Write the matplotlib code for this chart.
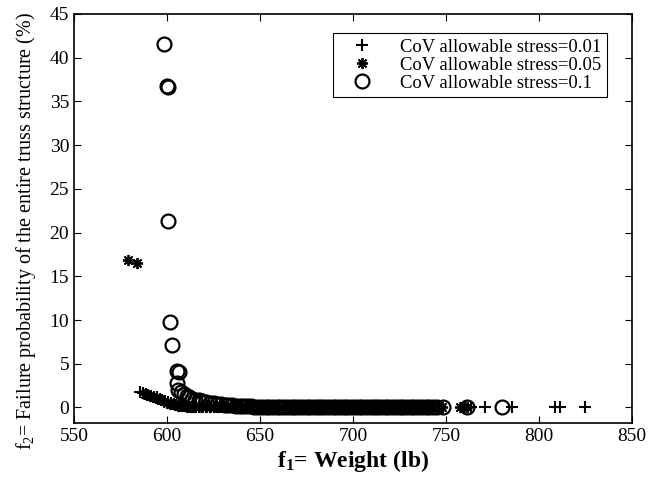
import numpy as np
import matplotlib
matplotlib.use('Agg')
import matplotlib.pyplot as plt

plt.rcParams['font.family'] = 'Liberation Serif'
plt.rcParams['mathtext.fontset'] = 'custom'
plt.rcParams['mathtext.rm'] = 'Liberation Serif'
plt.rcParams['mathtext.it'] = 'Liberation Serif:italic'
plt.rcParams['mathtext.bf'] = 'Liberation Serif:bold'

# CoV allowable stress = 0.01
w_001 = [585.5, 587, 588.5, 590, 591.5, 593, 594.5, 596, 597.5, 599, 600.5, 602,
         603.5, 605, 606.5, 608, 609.5, 611, 612.5, 614, 615.5, 617, 619, 621,
         623, 625, 627, 629, 631, 633, 635, 637, 639, 641, 643, 645, 647, 649,
         651, 653, 655, 657, 659, 661, 663, 665, 667, 669, 671, 673, 675, 677,
         679, 681, 683, 685, 687, 689, 691, 693, 695, 697, 699, 701, 703, 705,
         707, 709, 711, 713, 715, 717, 719, 721, 723, 725, 727, 729, 731, 733,
         735, 737, 739, 741, 743, 745, 747, 763.5, 771, 785.5, 808.5, 811.5, 824.5]
p_001 = [1.75, 1.65, 1.55, 1.45, 1.35, 1.25, 1.15, 1.0, 0.9, 0.75, 0.6, 0.5,
         0.4, 0.3, 0.22, 0.16, 0.12, 0.09, 0.07, 0.05, 0.04, 0.03, 0.02, 0.02,
         0.01, 0.01, 0.01, 0, 0, 0, 0, 0, 0, 0, 0, 0, 0, 0,
         0, 0, 0, 0, 0, 0, 0, 0, 0, 0, 0, 0, 0, 0,
         0, 0, 0, 0, 0, 0, 0, 0, 0, 0, 0, 0, 0, 0,
         0, 0, 0, 0, 0, 0, 0, 0, 0, 0, 0, 0, 0, 0,
         0, 0, 0, 0, 0, 0, 0, 0, 0, 0, 0, 0, 0]

# CoV allowable stress = 0.05
w_005 = [579.2, 583.7, 588, 589.5, 591, 592.5, 594, 595.5, 597, 598.5, 600, 601.5,
         603, 604.5, 606, 607.5, 609, 611, 613, 615, 617, 619, 621, 623, 625,
         627.5, 630, 632.5, 635, 637.5, 640, 642.5, 645, 647.5, 650, 652.5, 655,
         657.5, 660, 662.5, 665, 667.5, 670, 672.5, 675, 677.5, 680, 682.5, 685,
         687.5, 690, 692.5, 695, 697.5, 700, 702.5, 705, 707.5, 710, 712.5, 715,
         717.5, 720, 722.5, 725, 727.5, 730, 732.5, 735, 737.5, 740, 742.5, 745,
         748, 757.5, 759.5, 761]
p_005 = [16.9, 16.5, 1.5, 1.4, 1.3, 1.2, 1.05, 0.95, 0.8, 0.7, 0.55, 0.45,
         0.35, 0.27, 0.2, 0.15, 0.11, 0.08, 0.06, 0.04, 0.03, 0.02, 0.02, 0.01, 0.01,
         0.01, 0, 0, 0, 0, 0, 0, 0, 0, 0, 0, 0,
         0, 0, 0, 0, 0, 0, 0, 0, 0, 0, 0, 0,
         0, 0, 0, 0, 0, 0, 0, 0, 0, 0, 0, 0,
         0, 0, 0, 0, 0, 0, 0, 0, 0, 0, 0, 0,
         0, 0, 0, 0]

# CoV allowable stress = 0.1
w_01 = [598.5, 599.8, 600.3, 600.7, 601.6, 602.7, 605.5, 606.5, 605.5, 606, 607.5,
        609, 610.5, 612, 613.5, 615, 617, 619, 621, 623, 625, 627, 629, 631, 633,
        635, 637, 639, 641, 643, 645, 647, 649, 651, 653, 655, 657, 659, 661, 663,
        665, 667, 669, 671, 673, 675, 677, 679, 681, 683, 685, 687, 689, 691, 693,
        695, 697, 699, 701, 703, 705, 707, 709, 711, 713, 715, 717, 719, 721, 723,
        725, 727, 729, 731, 733, 735, 737, 739, 741, 743, 745, 748.5, 761, 780]
p_01 = [41.6, 36.8, 36.7, 21.3, 9.8, 7.2, 4.2, 4.1, 2.8, 2.0, 1.75,
        1.5, 1.3, 1.15, 1.0, 0.9, 0.8, 0.7, 0.6, 0.52, 0.46, 0.4, 0.35, 0.3, 0.27,
        0.24, 0.21, 0.18, 0.16, 0.14, 0.12, 0.1, 0.09, 0.08, 0.07, 0.06, 0.05, 0.05, 0.04, 0.04,
        0.03, 0.03, 0.02, 0.02, 0.02, 0.01, 0.01, 0.01, 0.01, 0, 0, 0, 0, 0, 0,
        0, 0, 0, 0, 0, 0, 0, 0, 0, 0, 0, 0, 0, 0, 0,
        0, 0, 0, 0, 0, 0, 0, 0, 0, 0, 0, 0, 0, 0]

fig = plt.figure(figsize=(6.49, 4.82), dpi=100)
ax = fig.add_axes([0.114, 0.122, 0.86, 0.849])

ax.plot(w_001, p_001, linestyle='none', marker='+', markersize=9, mew=1.5,
        color='black', label='CoV allowable stress=0.01')
ax.plot(w_005, p_005, linestyle='none', marker=(8, 2, 0), markersize=8, mew=1.3,
        color='black', label='CoV allowable stress=0.05')
ax.plot(w_01, p_01, linestyle='none', marker='o', markersize=10, mew=1.6,
        color='black', markerfacecolor='none', label='CoV allowable stress=0.1')

ax.set_xlim(550, 850)
ax.set_ylim(-1.8, 45)
ax.set_xticks(np.arange(550, 851, 50))
ax.set_yticks(np.arange(0, 46, 5))
ax.tick_params(direction='in', top=True, right=True, length=5, labelsize=14)
for s in ax.spines.values():
    s.set_linewidth(1.2)

ax.set_xlabel(r'$\mathbf{f_1}$= Weight (lb)', fontsize=17, fontweight='bold', labelpad=2)
ax.set_ylabel(r'$\mathrm{f_2}$= Failure probability of the entire truss structure (%)', fontsize=14.5)
ax.yaxis.set_label_coords(-0.064, 0.47)

leg = ax.legend(loc='upper right', bbox_to_anchor=(0.971, 0.976), fontsize=13.4,
                fancybox=False, edgecolor='black', framealpha=1, borderpad=0.3,
                handlelength=2.5, handletextpad=0.8, labelspacing=0.05)
leg.get_frame().set_linewidth(0.8)

fig.savefig('out.png', dpi=100)
